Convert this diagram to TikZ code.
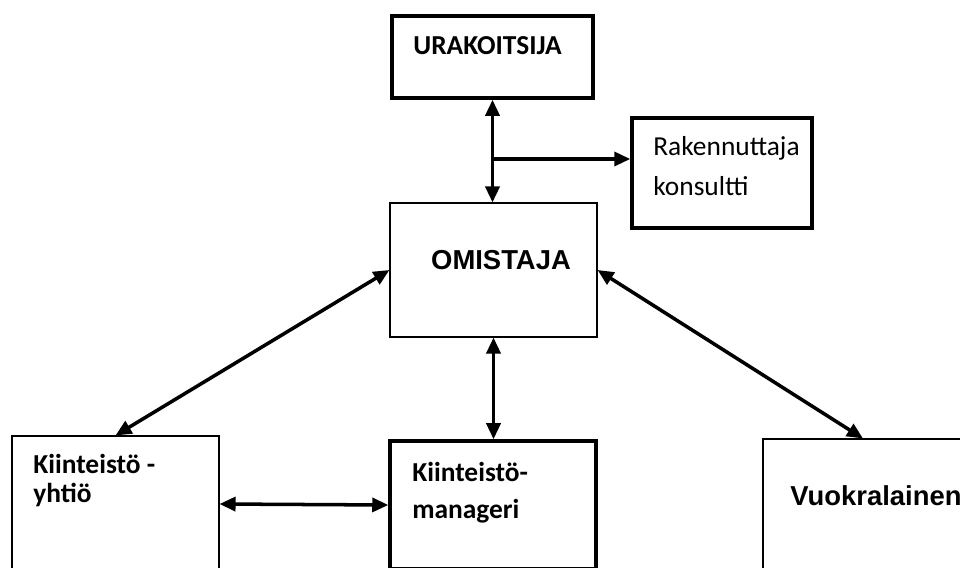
\documentclass[tikz,border=0pt]{standalone}
\usepackage{fontspec}
\setmainfont{Carlito}
\newfontfamily\arialfont{Liberation Sans}
\usetikzlibrary{arrows.meta}

\begin{document}
\begin{tikzpicture}[
  box/.style={draw, line width=0.6pt, minimum width=4.14cm, inner sep=0pt},
  heavybox/.style={box, line width=2pt},
  lbl/.style={anchor=base west, inner sep=0pt, align=left,
              font=\fontsize{15.6}{20}\selectfont\bfseries},
  tip/.tip={Triangle[length=0.32cm, width=0.28cm]},
  link/.style={{tip}-{tip}, line width=2pt},
  every node/.style={font=\fontsize{15.6}{20}\selectfont}
]
  \clip (0,0) rectangle (19.2,11.34);
  \node[heavybox, minimum width=4.02cm, minimum height=1.64cm] (urak) at (9.85,10.2) {};
  \node[heavybox, minimum width=3.6cm, minimum height=2.2cm]   (rak)  at (14.44,7.88) {};
  \node[box, minimum height=2.68cm] (omis) at (9.87,5.94) {};
  \node[box, minimum height=2.72cm] (kiy)  at (2.31,1.26) {};
  \node[heavybox, minimum width=4.12cm, minimum height=2.56cm] (kim) at (9.86,1.24) {};
  \node[box, minimum width=4.0cm, minimum height=2.86cm] (vuo) at (17.26,1.13) {};

  % multi-line labels sit on the baseline of their last line
  \node[lbl] (urak-t) at (8.26,10.24) {URAKOITSIJA};
  \node[lbl, font=\fontsize{15.6}{23.3}\selectfont] (rak-t) at (13.06,7.42) {Rakennuttaja\\konsultti};
  \node[lbl, anchor=base, font=\fontsize{15.6}{20}\selectfont\arialfont\bfseries] (omis-t) at (10.02,5.94) {OMISTAJA};
  \node[lbl, font=\fontsize{15.6}{16}\selectfont\bfseries] (kiy-t) at (0.66,1.30) {Kiinteistö -\\yhtiö};
  \node[lbl, font=\fontsize{15.6}{20.5}\selectfont\bfseries] (kim-t) at (8.24,0.98) {Kiinteistö-\\manageri};
  \node[lbl, font=\fontsize{15.6}{20}\selectfont\arialfont\bfseries] (vuo-t) at (15.8,1.24) {Vuokralainen};

  \coordinate (split) at (9.85,8.16);
  \draw[link] (urak.south) -- (urak.south |- omis.north);
  \draw[-{tip}, line width=2pt] (split) -- (split -| rak.west);
  \draw[link] (omis.west) -- (kiy.north);
  \draw[link] (omis.east) -- (vuo.north);
  \draw[link] (omis.south) -- (omis.south |- kim.north);
  \draw[link] (kiy.east) -- (kim.west);
\end{tikzpicture}
\end{document}
